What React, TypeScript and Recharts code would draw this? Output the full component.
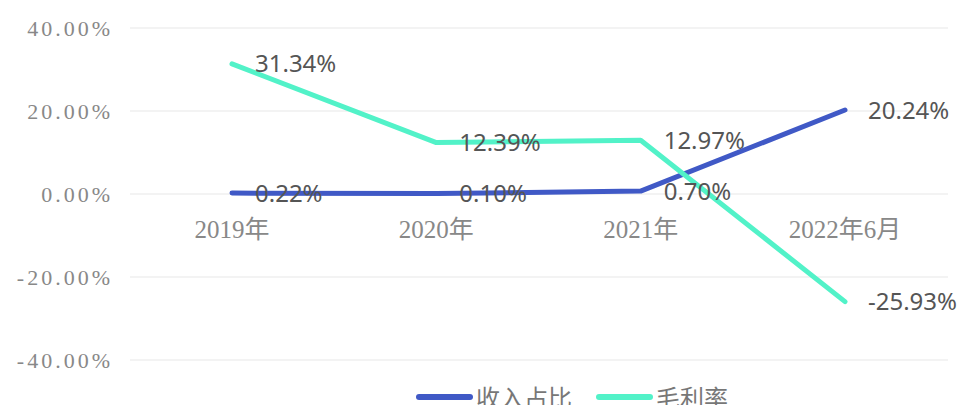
import { LineChart, Line, XAxis, YAxis, CartesianGrid, Legend, ReferenceDot } from "recharts";

const categories = ["2019年", "2020年", "2021年", "2022年6月"];
const revenueShare = [0.22, 0.1, 0.7, 20.24];
const grossMargin = [31.34, 12.39, 12.97, -25.93];
const yTicks = [-40, -20, 0, 20, 40];

const seriesNames = { revenue: "收入占比", margin: "毛利率" };
const BLUE = "#4059c6";
const GREEN = "#52f2c8";

const data = categories.map((c, i) => ({
  name: c,
  revenue: revenueShare[i],
  margin: grossMargin[i],
}));

const pct = (v: number) => `${Number(v).toFixed(2)}%`;

function LegendBox() {
  const items = [
    { label: seriesNames.revenue, color: BLUE },
    { label: seriesNames.margin, color: GREEN },
  ];
  return (
    <div style={{ display: "flex", justifyContent: "center", alignItems: "center", paddingLeft: 208, height: 32 }}>
      {items.map((it) => (
        <div key={it.label} style={{ display: "flex", alignItems: "center", marginRight: 24 }}>
          <span style={{ display: "inline-block", width: 57, height: 6, borderRadius: 3, background: it.color, marginRight: 3 }} />
          <span style={{ fontFamily: "'Noto Sans CJK SC', sans-serif", fontSize: 24, color: "#777", lineHeight: "32px" }}>
            {it.label}
          </span>
        </div>
      ))}
    </div>
  );
}

export default function App() {
  return (
    <div style={{ position: "absolute", left: 0, top: 0, width: 960, height: 405, background: "#fff" }}>
      <LineChart width={960} height={405} data={data} margin={{ top: 28, right: 12, bottom: 13, left: 0 }}>
        <CartesianGrid vertical={false} stroke="#efefef" strokeWidth={1.5} />
        <XAxis dataKey="name" hide padding={{ left: 102, right: 103 }} />
        <YAxis
          width={130}
          domain={[-40, 40]}
          ticks={yTicks}
          tickFormatter={pct}
          axisLine={false}
          tickLine={false}
          tickMargin={11}
          tick={{ fill: "#888", fontSize: 22, fontFamily: "'Liberation Serif', serif", letterSpacing: 3 }}
        />
        {categories.map((c) => (
          <ReferenceDot
            key={c}
            x={c}
            y={0}
            r={0}
            fill="none"
            stroke="none"
            label={{
              value: c,
              position: "bottom",
              offset: 26,
              fill: "#888",
              fontSize: 25,
              fontFamily: "'Liberation Serif', 'Noto Sans CJK SC', serif",
            }}
          />
        ))}
        <Legend verticalAlign="bottom" content={<LegendBox />} wrapperStyle={{ bottom: -8, left: 0, width: 960 }} />
        <Line
          dataKey="revenue"
          name={seriesNames.revenue}
          stroke={BLUE}
          strokeWidth={5}
          strokeLinecap="round"
          strokeLinejoin="round"
          dot={false}
          isAnimationActive={false}
          label={{ position: "right", offset: 23, fill: "#555", fontSize: 24, fontFamily: "'Noto Sans', sans-serif", formatter: pct }}
        />
        <Line
          dataKey="margin"
          name={seriesNames.margin}
          stroke={GREEN}
          strokeWidth={5}
          strokeLinecap="round"
          strokeLinejoin="round"
          dot={false}
          isAnimationActive={false}
          label={{ position: "right", offset: 23, fill: "#555", fontSize: 24, fontFamily: "'Noto Sans', sans-serif", formatter: pct }}
        />
      </LineChart>
    </div>
  );
}
